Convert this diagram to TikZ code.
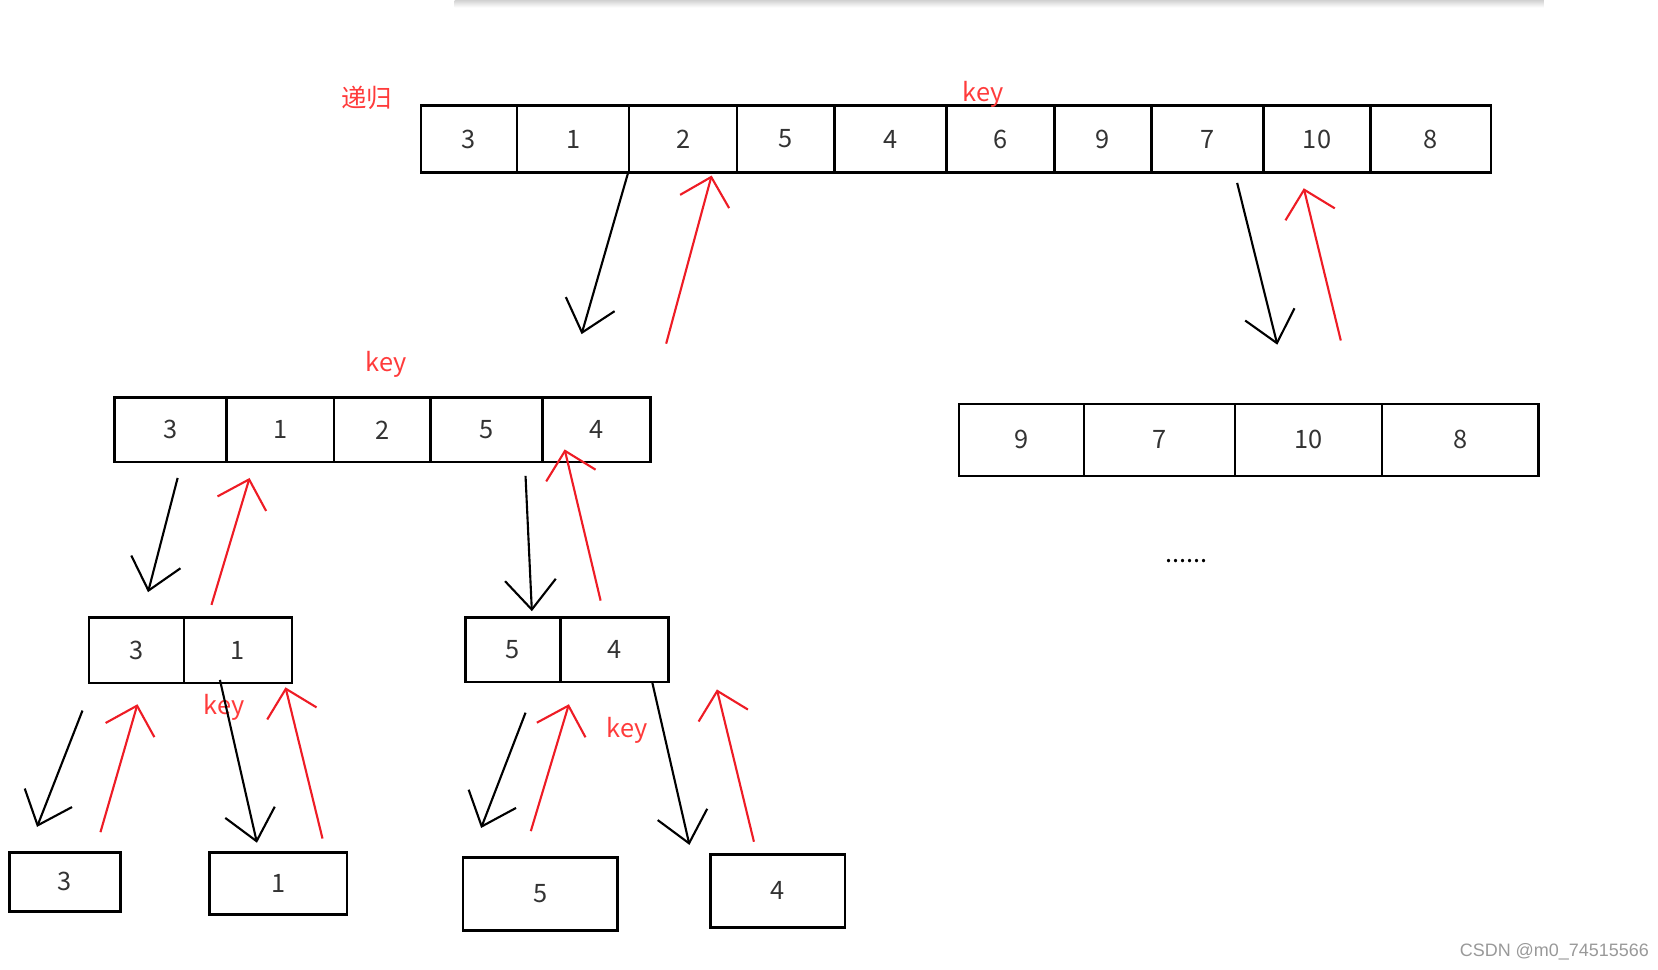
\documentclass[tikz,border=0pt]{standalone}
\usepackage{fontspec}
\usetikzlibrary{arrows.meta}
\newfontfamily\cjk{Noto Sans CJK SC}
\newfontfamily\wmark{Liberation Sans}
\definecolor{inkred}{HTML}{EE1C25}
\definecolor{notered}{HTML}{FF3B3B}
\definecolor{digitgray}{HTML}{333333}
\tikzset{
  cell/.style={draw=black,line width=1.25pt,inner sep=0pt,
               font=\cjk\fontsize{12}{14}\selectfont,text=digitgray},
  note/.style={inner sep=0pt,font=\cjk\fontsize{12}{14}\selectfont,text=notered},
  callarr/.style={-{Straight Barb[length=14pt,width=24pt]},line width=1pt,
                  draw=black},
  retarr/.style={-{Straight Barb[length=12pt,width=24pt]},line width=1pt,
                 draw=inkred}
}
\begin{document}
\begin{tikzpicture}[x=0.5pt,y=-0.5pt]
  \useasboundingbox (0,0) rectangle (1568,917);
  \shade[top color=black!18,bottom color=white] (430,0) rectangle (1460,7);

  % whole array
  \foreach \xa/\xb/\v [count=\i] in {398/489/3,489/595/1,595/697/2,697/789/5,
      789/895/4,895/997/6,997/1089/9,1089/1195/7,1195/1296/10,1296/1410/8}
    \node[cell,minimum width={(\xb-\xa)*0.5pt},minimum height=31.5pt]
      (t\i) at ({(\xa+\xb)/2},131.5) {\v};

  % left and right parts
  \foreach \xa/\xb/\v [count=\i] in {108/214/3,214/316/1,316/407/2,407/513/5,513/615/4}
    \node[cell,minimum width={(\xb-\xa)*0.5pt},minimum height=30.5pt]
      (m\i) at ({(\xa+\xb)/2},406.5) {\v};
  \foreach \xa/\xb/\v [count=\i] in {907/1025/9,1025/1168/7,1168/1307/10,1307/1455/8}
    \node[cell,minimum width={(\xb-\xa)*0.5pt},minimum height=34pt]
      (r\i) at ({(\xa+\xb)/2},416) {\v};

  % pairs
  \foreach \xa/\xb/\v [count=\i] in {84/174/3,174/276/1}
    \node[cell,minimum width={(\xb-\xa)*0.5pt},minimum height=31pt]
      (s\i) at ({(\xa+\xb)/2},615) {\v};
  \foreach \xa/\xb/\v [count=\i] in {440/530/5,530/632/4}
    \node[cell,minimum width={(\xb-\xa)*0.5pt},minimum height=30.5pt]
      (u\i) at ({(\xa+\xb)/2},614.5) {\v};

  % single elements
  \node[cell,minimum width=52.5pt,minimum height=28pt] (leaf3) at (61.5,834) {3};
  \node[cell,minimum width=65pt,minimum height=29.5pt] (leaf1) at (263,835.5) {1};
  \node[cell,minimum width=73pt,minimum height=34.5pt] (leaf5) at (511,845.5) {5};
  \node[cell,minimum width=63.5pt,minimum height=34.5pt] (leaf4) at (735.5,842.5) {4};

  % labels
  \node[note] (rec) at (347,93) {递归};
  \node[note] (keytop) at (930,89) {key};
  \node[note] (keymid) at (365,345) {key};
  \node[note] (keyl) at (212,669) {key};
  \node[note] (keyr) at (593,691) {key};
  \node[inner sep=0pt,font=\cjk\fontsize{12}{14}\selectfont] (more) at (1122,531) {......};
  \node[inner sep=0pt,font=\wmark\fontsize{8.5}{10}\selectfont,text=black!40]
    (mark) at (1470,900) {CSDN @m0\_74515566};

  % arrow ends
  \foreach \n/\x/\y in {a1/550/316,b1/630/325,b1e/673/166,
      a2/1170/173,a2e/1208/326,b2/1268/322,b2e/1233/178,
      a3/168/452,a3e/140/560,b3/200/572,b3e/236/452,
      a4/497/450,a4e/503/578,b4/568/568,b4e/534/425,
      a5/78/672,a5e/35/782,b5/95/787,b5e/130/666,
      a6/208/643,a6e/243/797,b6/305/793,b6e/270/650,
      a7/497/674,a7e/455/783,b7/502/786,b7e/538/666,
      a8/617/646,a8e/652/799,b8/713/796,b8e/678/652}
    \coordinate (\n) at (\x,\y);

  % recursion down and back
  \draw[callarr] (t3.south west) -- (a1);
  \draw[retarr] (b1) -- (b1e);
  \draw[callarr] (a2) -- (a2e);
  \draw[retarr] (b2) -- (b2e);
  \draw[callarr] (a3) -- (a3e);
  \draw[retarr] (b3) -- (b3e);
  \draw[callarr] (a4) -- (a4e);
  \draw[retarr] (b4) -- (b4e);
  \draw[callarr] (a5) -- (a5e);
  \draw[retarr] (b5) -- (b5e);
  \draw[callarr] (a6) -- (a6e);
  \draw[retarr] (b6) -- (b6e);
  \draw[callarr] (a7) -- (a7e);
  \draw[retarr] (b7) -- (b7e);
  \draw[callarr] (a8) -- (a8e);
  \draw[retarr] (b8) -- (b8e);
\end{tikzpicture}
\end{document}
